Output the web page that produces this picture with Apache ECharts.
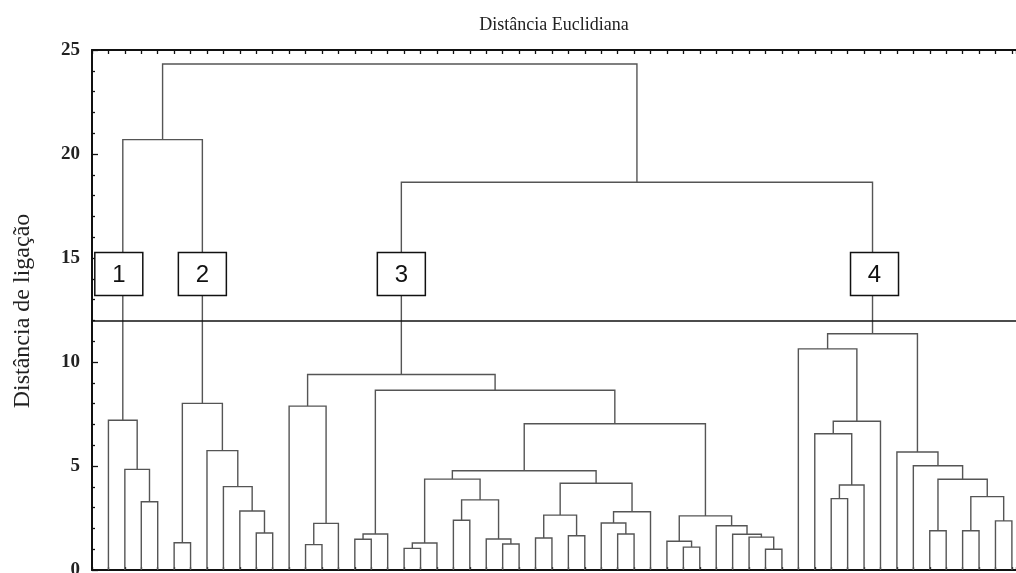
<!DOCTYPE html>
<html>
<head>
<meta charset="utf-8">
<script src="https://cdn.jsdelivr.net/npm/echarts/dist/echarts.min.js"></script>
<style>
html,body{margin:0;padding:0;background:#fff;}
#chart{width:1016px;height:573px;}
</style>
</head>
<body>
<div id="chart"></div>
<script>
// Dendrogram tree: a node is 0 (a leaf) or [left, right, linkage distance]
const cluster1 = [0, [0, [0, 0, 3.28], 4.84], 7.20];
const cluster2 = [[0, 0, 1.31], [0, [0, [0, [0, 0, 1.78], 2.84], 4.01], 5.74], 8.01];
const sub3A = [0, [[0, 0, 1.22], 0, 2.24], 7.88];
const sub3B = [[0, 0, 1.48], 0, 1.73];
const sub3E = [[0, 0, 1.04], 0, 1.30];
const sub3F = [[0, 0, 2.39], [0, [0, 0, 1.25], 1.49], 3.37];
const sub3G = [[0, 0, 1.54], [0, 0, 1.65], 2.64];
const sub3H = [[0, [0, 0, 1.73], 2.26], 0, 2.80];
const sub3I = [0, [0, 0, 1.10], 1.38];
const sub3J = [0, [0, [0, [0, 0, 1.00], 1.58], 1.72], 2.13];
const cluster3 = [sub3A, [sub3B, [[[sub3E, sub3F, 4.37], [sub3G, sub3H, 4.17], 4.77], [sub3I, sub3J, 2.60], 7.03], 8.64], 9.40];
const sub4K = [0, [[0, [[0, 0, 3.43], 0, 4.09], 6.55], 0, 7.15], 10.63];
const sub4L = [0, [0, [[0, 0, 1.89], [[0, 0, 1.89], [0, 0, 2.36], 3.53], 4.36], 5.01], 5.67];
const cluster4 = [sub4K, sub4L, 11.36];
const link12 = 20.69;     // cluster 1 + cluster 2
const link34 = 18.64;     // cluster 3 + cluster 4
const linkRoot = 24.33;   // all
const cutLevel = 12;
const boxLevel = 14.23;
const boxLabels = ['1', '2', '3', '4'];
const yTickValues = [0, 5, 10, 15, 20, 25];
const titleText = 'Distância Euclidiana';
const yAxisTitle = 'Distância de ligação';

// ---- build segments from the tree ----
let leafCount = 0;
const segments = [];
function layout(node) {
  if (node === 0) return { x: leafCount++, h: 0 };
  const l = layout(node[0]);
  const r = layout(node[1]);
  segments.push([l.x, l.h, r.x, r.h, node[2]]);
  return { x: (l.x + r.x) / 2, h: node[2] };
}
function join(l, r, h) {
  segments.push([l.x, l.h, r.x, r.h, h]);
  return { x: (l.x + r.x) / 2, h: h };
}
const c1 = layout(cluster1);
const c2 = layout(cluster2);
const c3 = layout(cluster3);
const c4 = layout(cluster4);
const c12 = join(c1, c2, link12);
const c34 = join(c3, c4, link34);
join(c12, c34, linkRoot);
const clusterCenters = [c1.x, c2.x, c3.x, c4.x];
const boxData = clusterCenters.map(x => [x, boxLevel]);
const boxShift = [-4, 0, 0, 2]; // pixel nudges

const serif = '"Liberation Serif", "Times New Roman", serif';
const chart = echarts.init(document.getElementById('chart'), null, { renderer: 'canvas' });

const xMin = -1, xMax = 55.25;
const baseX = {
  type: 'value', min: xMin, max: xMax, interval: 1,
  axisLabel: { show: false },
  splitLine: { show: false },
  axisLine: { show: true, onZero: false, lineStyle: { color: '#111', width: 2 } }
};

chart.setOption({
  animation: false,
  backgroundColor: '#fff',
  grid: { left: 92, right: 0, top: 50, bottom: 3, containLabel: false, outerBoundsMode: 'none' },
  xAxis: [
    Object.assign({}, baseX, { position: 'bottom', axisTick: { show: true, inside: true, length: 3, lineStyle: { color: '#111', width: 1.3 } } }),
    Object.assign({}, baseX, { position: 'top', axisTick: { show: true, inside: true, length: 4, lineStyle: { color: '#111', width: 1.3 } } })
  ],
  yAxis: {
    type: 'value', min: 0, max: 25, interval: 5,
    axisLine: { show: true, onZero: false, lineStyle: { color: '#111', width: 2 } },
    axisTick: { show: true, inside: true, length: 6, lineStyle: { color: '#111', width: 1.3 } },
    minorTick: { show: true, splitNumber: 5, length: 3, lineStyle: { color: '#111', width: 1.3 } },
    splitLine: { show: false },
    minorSplitLine: { show: false },
    axisLabel: {
      margin: 12, color: '#222', fontFamily: serif, fontWeight: 'bold', fontSize: 19,
      formatter: v => (yTickValues.indexOf(v) >= 0 ? String(v) : '')
    }
  },
  graphic: [
    { type: 'text', x: 554, y: 25, style: { text: titleText, font: '18px ' + serif, fill: '#222', textAlign: 'center', textVerticalAlign: 'middle', align: 'center', verticalAlign: 'middle' } },
    { type: 'text', x: 23, y: 311, rotation: Math.PI / 2, style: { text: yAxisTitle, font: '24px ' + serif, fill: '#222', textAlign: 'center', textVerticalAlign: 'middle', align: 'center', verticalAlign: 'middle' } }
  ],
  series: [
    {
      type: 'custom',
      xAxisIndex: 0, yAxisIndex: 0,
      data: segments,
      encode: { x: [0, 2], y: [1, 3, 4] },
      z: 2,
      silent: true,
      renderItem: function (params, api) {
        const p1 = api.coord([api.value(0), api.value(1)]);
        const p2 = api.coord([api.value(0), api.value(4)]);
        const p3 = api.coord([api.value(2), api.value(4)]);
        const p4 = api.coord([api.value(2), api.value(3)]);
        return {
          type: 'polyline',
          shape: { points: [p1, p2, p3, p4] },
          style: { stroke: '#555', lineWidth: 1.4, fill: null }
        };
      },
      markLine: {
        silent: true, symbol: 'none', animation: false,
        label: { show: false },
        lineStyle: { color: '#111', width: 1.6, type: 'solid' },
        data: [{ yAxis: cutLevel }]
      }
    },
    {
      type: 'custom',
      xAxisIndex: 0, yAxisIndex: 0,
      data: boxData,
      encode: { x: 0, y: 1 },
      z: 5,
      silent: true,
      renderItem: function (params, api) {
        const c = api.coord([api.value(0), api.value(1)]);
        const cx = c[0] + boxShift[params.dataIndex];
        return {
          type: 'group',
          children: [
            { type: 'rect', shape: { x: cx - 24, y: c[1] - 21.5, width: 48, height: 43 },
              style: { fill: '#fff', stroke: '#111', lineWidth: 1.5 } },
            { type: 'text', x: cx, y: c[1] + 1,
              style: { text: boxLabels[params.dataIndex], font: '24px "Liberation Sans", Arial, sans-serif', fill: '#111',
                       textAlign: 'center', textVerticalAlign: 'middle', align: 'center', verticalAlign: 'middle' } }
          ]
        };
      }
    }
  ]
});
</script>
</body>
</html>
